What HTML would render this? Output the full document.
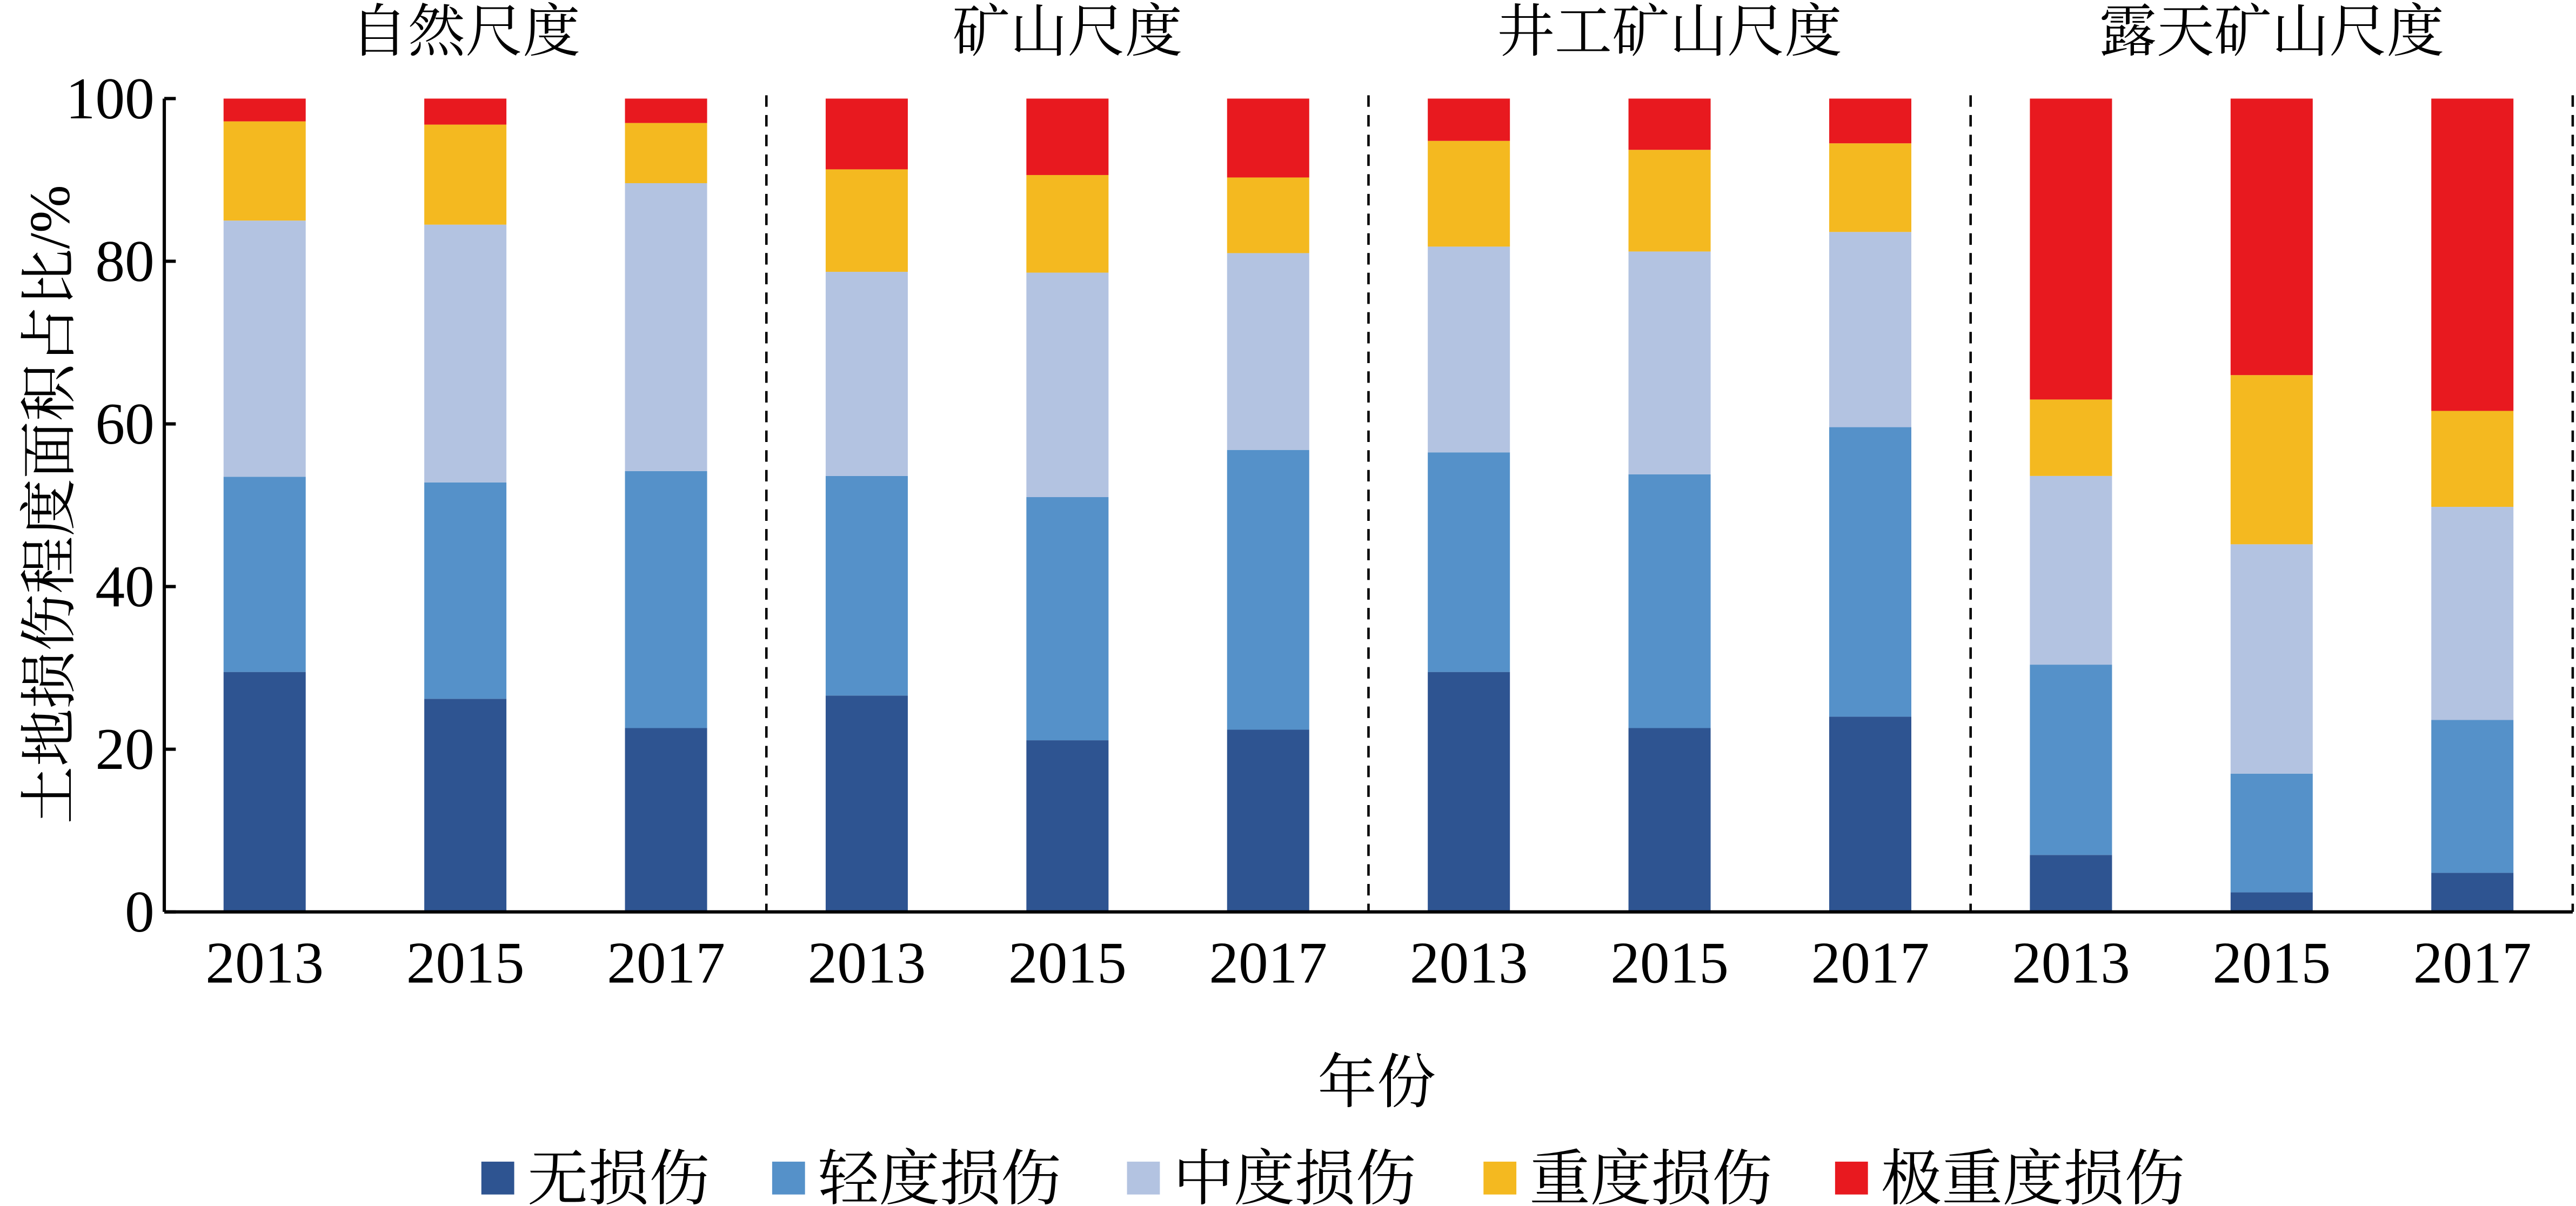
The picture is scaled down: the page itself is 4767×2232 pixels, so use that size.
<!DOCTYPE html>
<html><head><meta charset="utf-8"><style>html,body{margin:0;padding:0;background:#fff}svg{display:block}</style></head>
<body>
<svg id="chart" width="4767" height="2232" viewBox="0 0 1568 734" preserveAspectRatio="none" xmlns="http://www.w3.org/2000/svg" font-family="'Liberation Serif','Noto Serif CJK SC',serif"></svg>
<script>
const groups = ["自然尺度","矿山尺度","井工矿山尺度","露天矿山尺度"];
const years = ["2013","2015","2017"];
const seriesNames = ["无损伤","轻度损伤","中度损伤","重度损伤","极重度损伤"];
const noDamage =     [29.5,26.2,22.6, 26.6,21.1,22.4, 29.5,22.6,24.0, 7.0,2.4,4.8];
const lightDamage =  [24.0,26.6,31.6, 27.0,29.9,34.4, 27.0,31.2,35.6, 23.4,14.6,18.8];
const moderateDamage=[31.5,31.7,35.4, 25.1,27.6,24.2, 25.3,27.4,24.0, 23.2,28.2,26.2];
const heavyDamage =  [12.2,12.3,7.4, 12.6,12.0,9.3, 13.0,12.5,10.9, 9.4,20.8,11.8];
const extremeDamage= [2.8,3.2,3.0, 8.7,9.4,9.7, 5.2,6.3,5.5, 37.0,34.0,38.4];
const yTicks = [0,20,40,60,80,100];

const colors = ["#2e5491","#5591c9","#b3c3e1","#f4b920","#e8191f"];
const series = [noDamage,lightDamage,moderateDamage,heavyDamage,extremeDamage];
const NS="http://www.w3.org/2000/svg";
const svg=document.getElementById('chart');
const x0=100,x1=1566,yB=555,yT=60;
const groupW=(x1-x0)/groups.length;
const barW=50;
function yScale(v){return yB-(v/100)*(yB-yT);}
function xCenter(g,i){return x0+groupW*g+groupW*(i+0.5)/years.length;}
function el(tag,attrs,text){const e=document.createElementNS(NS,tag);for(const k in attrs)e.setAttribute(k,attrs[k]);if(text!==undefined)e.textContent=text;svg.appendChild(e);return e;}

for(let g=0;g<groups.length;g++){
  for(let i=0;i<years.length;i++){
    const idx=g*years.length+i;let cum=0;
    for(let s=0;s<series.length;s++){
      const v=series[s][idx];
      const r=el('rect',{x:xCenter(g,i)-barW/2,y:yScale(cum+v),width:barW,height:yScale(cum)-yScale(cum+v),fill:colors[s]});
      
      
      cum+=v;
    }
    const t=el('text',{x:xCenter(g,i),y:598,'font-size':36,'text-anchor':'middle'},years[i]);
    
    
  }
  const gt=el('text',{x:x0+groupW*(g+0.5),y:31,'font-size':35,'text-anchor':'middle'},groups[g]);
  
  
  const d=el('line',{x1:x0+groupW*(g+1),x2:x0+groupW*(g+1),y1:yT-2,y2:yB,stroke:'#000','stroke-width':1.5,'stroke-dasharray':'7,5'});
  
  
}
const ax=el('line',{x1:x0,x2:x0,y1:yT,y2:yB,stroke:'#000','stroke-width':2});


const bx=el('line',{x1:x0,x2:x1,y1:yB,y2:yB,stroke:'#000','stroke-width':2});


for(const v of yTicks){
  const tk=el('line',{x1:x0,x2:x0+7,y1:yScale(v),y2:yScale(v),stroke:'#000','stroke-width':2});
  
  
  const tl=el('text',{x:x0-6,y:yScale(v)+12,'font-size':36,'text-anchor':'end'},String(v));
  
  
}
const yt=el('text',{x:0,y:0,'font-size':35,'text-anchor':'middle',transform:'translate(42,307) rotate(-90)'},'土地损伤程度面积占比/%');


const xt=el('text',{x:838,y:671,'font-size':36,'text-anchor':'middle'},'年份');


const legX=[293,470,686,903,1117];
for(let s=0;s<seriesNames.length;s++){
  const r=el('rect',{x:legX[s],y:707,width:20,height:20,fill:colors[s]});
  
  
  const t=el('text',{x:legX[s]+28,y:730,'font-size':37},seriesNames[s]);
  
  
}
</script>
</body></html>
